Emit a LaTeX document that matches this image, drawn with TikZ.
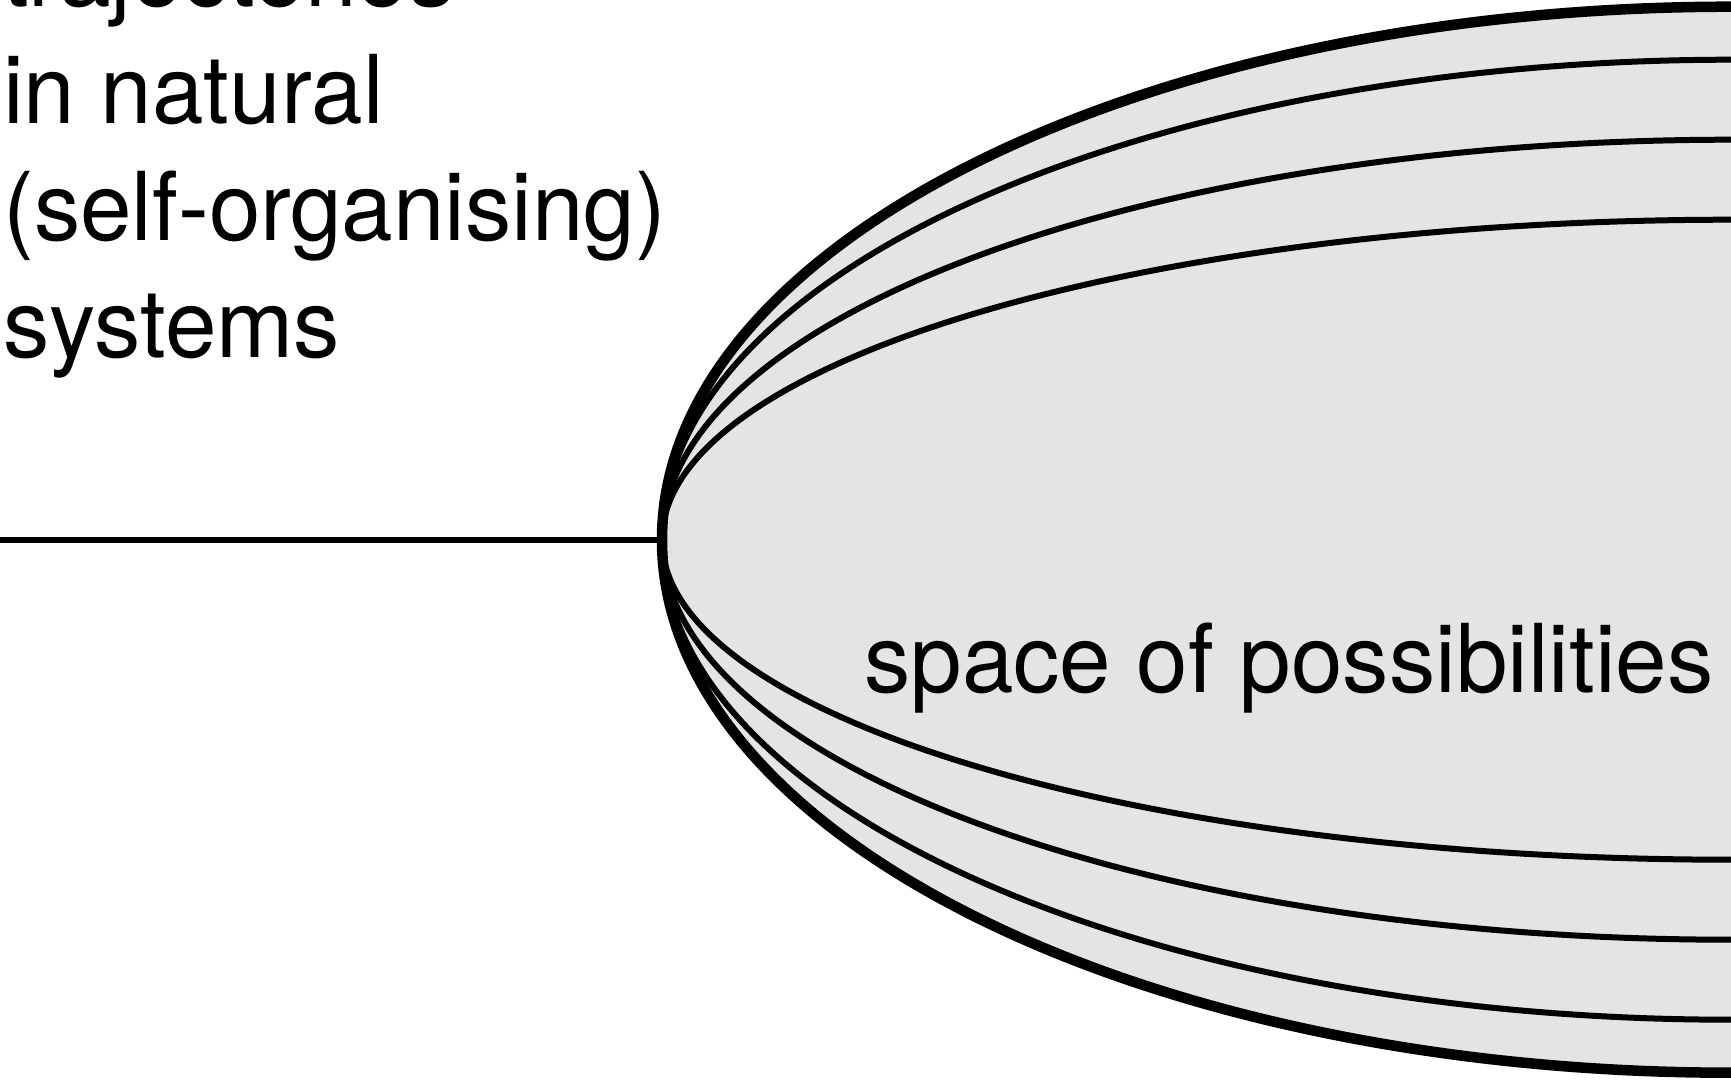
\documentclass[tikz,border=0pt]{standalone}
\usepackage{fontspec}
\setmainfont[FakeStretch=0.975]{TeX Gyre Heros}
\definecolor{spacegray}{HTML}{E4E4E4}
\begin{document}
\begin{tikzpicture}[x=1pt,y=-1pt,
  bigtext/.style={inner sep=0pt,anchor=base west,font=\fontsize{95}{117}\selectfont},
  outerline/.style={line width=10.5pt},
  traj/.style={line width=6pt}]
\useasboundingbox (0,0) rectangle (1731,1079);
% filled space of possibilities
\fill[spacegray] (1731,6.7) arc[start angle=90,end angle=270,x radius=1069pt,y radius=533pt] -- cycle;
% trajectories
\draw[traj] (1731,59.7) arc[start angle=90,end angle=270,x radius=1069pt,y radius=480pt];
\draw[traj] (1731,139.7) arc[start angle=90,end angle=270,x radius=1069pt,y radius=400pt];
\draw[traj] (1731,219.7) arc[start angle=90,end angle=270,x radius=1069pt,y radius=320pt];
\draw[outerline] (1731,6.7) arc[start angle=90,end angle=270,x radius=1069pt,y radius=533pt];
% incoming trajectory
\coordinate (start) at (0,539.7);
\coordinate (vertex) at (662,539.7);
\draw[traj] (start) -- (vertex);
% labels
\node[bigtext] (l1) at (3,6) {trajectories};
\node[bigtext] (l2) at (3,123) {in natural};
\node[bigtext] (l3) at (3,240) {(self-organising)};
\node[bigtext] (l4) at (3,357) {systems};
\node[bigtext] (space) at (864,692) {space of possibilities};
\end{tikzpicture}
\end{document}
